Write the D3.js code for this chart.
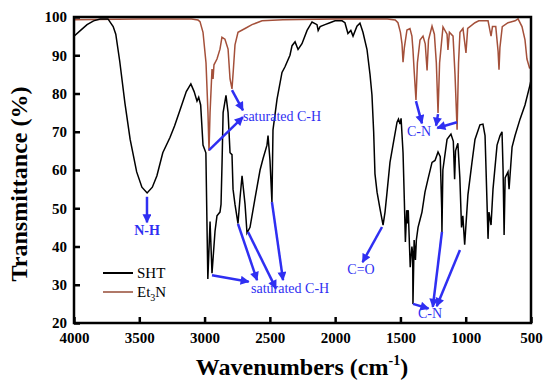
<!DOCTYPE html>
<html><head><meta charset="utf-8">
<script src="https://cdn.jsdelivr.net/npm/d3@7"></script>
<style>body{margin:0;background:#fff}svg{display:block}</style>
</head><body><svg id="c" width="550" height="389"></svg>
<script>
// ---- data ----
const shtWave = [4000,3950,3900,3850,3800,3740,3700,3680,3650,3610,3570,3520,3480,3440,3400,3365,3320,3265,3230,3190,3140,3105,3080,3058,3045,3030,3012,2990,2975,2958,2943,2920,2905,2882,2874,2866,2858,2836,2820,2805,2790,2782,2767,2744,2729,2713,2690,2675,2652,2614,2575,2552,2522,2514,2499,2484,2476,2445,2407,2384,2346,2330,2307,2284,2254,2215,2177,2139,2130,2115,2078,2040,2001,1947,1925,1902,1880,1863,1833,1810,1787,1756,1733,1718,1705,1695,1679,1656,1633,1618,1603,1580,1557,1526,1515,1503,1495,1480,1470,1462,1452,1446,1440,1425,1412,1406,1404,1395,1385,1378,1365,1350,1335,1312,1289,1258,1235,1212,1195,1184,1182,1175,1143,1113,1095,1085,1078,1060,1045,1032,1022,1008,983,952,929,891,868,852,837,829,822,806,791,760,737,722,714,706,698,676,668,645,622,584,546,508,500];
const shtT = [95.0,96.5,98.0,99.0,99.5,99.5,97.5,95.5,88.5,77.5,68.0,59.5,55.5,54.0,55.5,58.5,64.5,68.5,71.5,75.5,80.5,82.5,80.5,78.0,79.0,77.0,66.5,64.5,31.5,46.5,33.0,44.0,48.0,49.0,51.0,62.0,75.0,79.5,75.0,64.5,64.0,55.0,51.0,46.0,52.5,58.5,51.0,43.5,45.0,52.5,60.0,63.0,66.5,69.0,62.5,51.5,70.5,78.5,85.5,87.0,90.0,92.5,93.5,91.5,93.0,96.5,98.7,98.0,96.5,97.5,98.0,98.5,99.0,99.0,98.5,95.7,96.5,95.0,97.6,98.4,96.0,91.5,85.0,79.6,70.0,59.0,54.2,49.8,45.6,49.0,54.0,62.0,66.5,72.5,73.3,72.0,73.5,64.5,52.0,41.2,49.5,46.0,49.5,34.6,40.0,38.0,25.0,41.7,36.5,41.7,45.0,47.0,49.0,54.2,57.6,62.0,62.5,64.7,63.5,50.0,43.8,60.0,68.0,69.4,67.5,57.6,65.0,67.0,58.0,45.0,48.0,40.5,53.5,62.0,68.0,71.8,72.0,69.0,51.6,42.0,49.0,45.6,55.0,66.5,69.0,70.0,60.3,43.0,58.0,59.5,55.0,66.0,69.0,73.3,77.0,82.2,83.5];
const etWave = [4000,3500,3100,3050,3035,3012,2989,2974,2966,2958,2943,2935,2928,2905,2882,2867,2844,2820,2805,2790,2780,2767,2744,2690,2637,2560,2400,2000,1600,1540,1519,1500,1488,1480,1470,1450,1427,1412,1404,1395,1381,1370,1350,1327,1310,1296,1285,1258,1240,1225,1212,1200,1174,1143,1136,1125,1097,1082,1066,1055,1044,1021,998,985,929,900,829,806,795,770,752,745,738,720,676,622,599,569,546,531,510];
const etT = [99.3,99.5,99.5,99.2,98.8,96.0,88.0,75.0,65.0,75.0,86.4,83.8,87.5,89.0,91.6,94.7,94.2,91.6,83.8,81.2,86.0,92.7,96.0,97.0,98.0,99.0,99.3,99.5,99.5,99.2,98.5,96.0,93.0,88.2,92.0,96.6,97.0,95.0,91.4,86.0,78.3,88.0,94.0,95.0,93.0,86.0,94.0,97.6,95.5,88.0,74.9,88.0,97.4,95.5,91.4,96.0,95.0,85.0,70.5,88.0,96.0,97.0,90.6,97.0,98.5,99.0,99.0,95.0,97.5,97.5,91.0,86.2,92.0,97.5,98.5,99.0,99.5,97.5,94.0,89.0,86.5];
const xTicks = [4000,3500,3000,2500,2000,1500,1000,500];
const yTicks = [20,30,40,50,60,70,80,90,100];
const seriesNames = ["SHT","Et3N"];
// annotations: [label, x(w), y(T), anchor, bold]
const labels = [
  ["N-H",3441,43.0,"middle",true],
  ["saturated C-H",2706,72.8,"start",false],
  ["C-N",1450,68.8,"start",false],
  ["saturated C-H",2644,27.8,"start",false],
  ["C=O",1802,32.8,"middle",false],
  ["C-N",1273,21.3,"middle",false]
];
// arrows: [w0,T0,w1,T1]
const arrows = [
  [3441,53.0,3441,46.3],
  [2790,80.9,2706,75.6],
  [2966,65.2,2706,73.8],
  [1381,78.0,1335,72.2],
  [1212,74.6,1227,71.6],
  [1067,72.5,1218,71.0],
  [2943,32.5,2662,30.8],
  [2744,45.9,2598,31.2],
  [2667,43.8,2453,29.0],
  [2484,51.6,2399,31.2],
  [1641,45.1,1790,35.9],
  [1404,25.0,1285,23.8],
  [1182,43.8,1252,24.2],
  [1044,39.1,1222,24.4]
];

const svg = d3.select("#c");
const L=74, R=531, T0=17, B=323;
const x = d3.scaleLinear().domain([4000,500]).range([L,R]);
const y = d3.scaleLinear().domain([20,100]).range([B,T0]);
const serif = "'Liberation Serif','Times New Roman',serif";
const blue = "#2f2ff2";
const redC = "#a4503a";

const defs = svg.append("defs");
defs.append("clipPath").attr("id","clip").append("rect").attr("x",L).attr("y",T0).attr("width",R-L).attr("height",B-T0);
defs.append("marker").attr("id","ah").attr("viewBox","0 0 10 10").attr("refX",9).attr("refY",5)
  .attr("markerWidth",10).attr("markerHeight",9).attr("markerUnits","userSpaceOnUse").attr("orient","auto")
  .append("path").attr("d","M0,0L10,5L0,10Z").attr("fill",blue);

const line = d3.line().x(d=>x(d[0])).y(d=>y(d[1]));
const g = svg.append("g").attr("clip-path","url(#clip)");
g.append("path").datum(d3.zip(etWave,etT)).attr("d",line).attr("fill","none").attr("stroke",redC).attr("stroke-width",1.5);
g.append("path").datum(d3.zip(shtWave,shtT)).attr("d",line).attr("fill","none").attr("stroke","#000").attr("stroke-width",1.5);

// axes
const xa = svg.append("g").attr("transform",`translate(0,${B})`)
  .call(d3.axisBottom(x).tickValues(xTicks).tickSize(-6).tickPadding(9).tickFormat(d3.format("d")));
const ya = svg.append("g").attr("transform",`translate(${L},0)`)
  .call(d3.axisLeft(y).tickValues(yTicks).tickSize(-6).tickPadding(7));
[xa,ya].forEach(a=>{
  a.select(".domain").remove();
  a.selectAll(".tick line").attr("stroke","#000").attr("stroke-width",2.5);
  a.selectAll(".tick text").attr("font-family",serif).attr("font-weight","bold").attr("font-size",15).attr("fill","#000");
});
xa.selectAll(".tick text").attr("dy","0.75em");
// frame
svg.append("rect").attr("x",L).attr("y",T0).attr("width",R-L).attr("height",B-T0)
  .attr("fill","none").attr("stroke","#000").attr("stroke-width",2.5);

// titles
const xt = svg.append("text").attr("x",302).attr("y",375).attr("text-anchor","middle")
  .attr("font-family",serif).attr("font-weight","bold").attr("font-size",24);
xt.append("tspan").text("Wavenumbers (cm");
xt.append("tspan").attr("dy",-10).attr("font-size",14).text("-1");
xt.append("tspan").attr("dy",10).text(")");
svg.append("text").attr("transform","translate(27,184) rotate(-90)").attr("text-anchor","middle")
  .attr("font-family",serif).attr("font-weight","bold").attr("font-size",24).text("Transmittance (%)");

// annotations
svg.selectAll("line.arr").data(arrows).join("line").attr("class","arr")
  .attr("x1",d=>x(d[0])).attr("y1",d=>y(d[1])).attr("x2",d=>x(d[2])).attr("y2",d=>y(d[3]))
  .attr("stroke",blue).attr("stroke-width",2.5).attr("marker-end","url(#ah)");
svg.selectAll("text.lab").data(labels).join("text").attr("class","lab")
  .attr("x",d=>x(d[1])).attr("y",d=>y(d[2])).attr("text-anchor",d=>d[3])
  .attr("font-family",serif).attr("font-size",14).attr("font-weight",d=>d[4]?"bold":"normal")
  .attr("fill",blue).text(d=>d[0]);

// legend
const lg = svg.append("g");
[["#000",273],["#b07868",292]].forEach((c,i)=>{
  lg.append("line").attr("x1",103).attr("x2",133).attr("y1",c[1]).attr("y2",c[1]).attr("stroke",c[0]).attr("stroke-width",2);
});
lg.append("text").attr("x",137).attr("y",278).attr("font-family",serif).attr("font-size",15).text(seriesNames[0]);
const et = lg.append("text").attr("x",137).attr("y",297).attr("font-family",serif).attr("font-size",15);
et.append("tspan").text("Et");
et.append("tspan").attr("dy",4).attr("font-size",10).text("3");
et.append("tspan").attr("dy",-4).text("N");
</script></body></html>
